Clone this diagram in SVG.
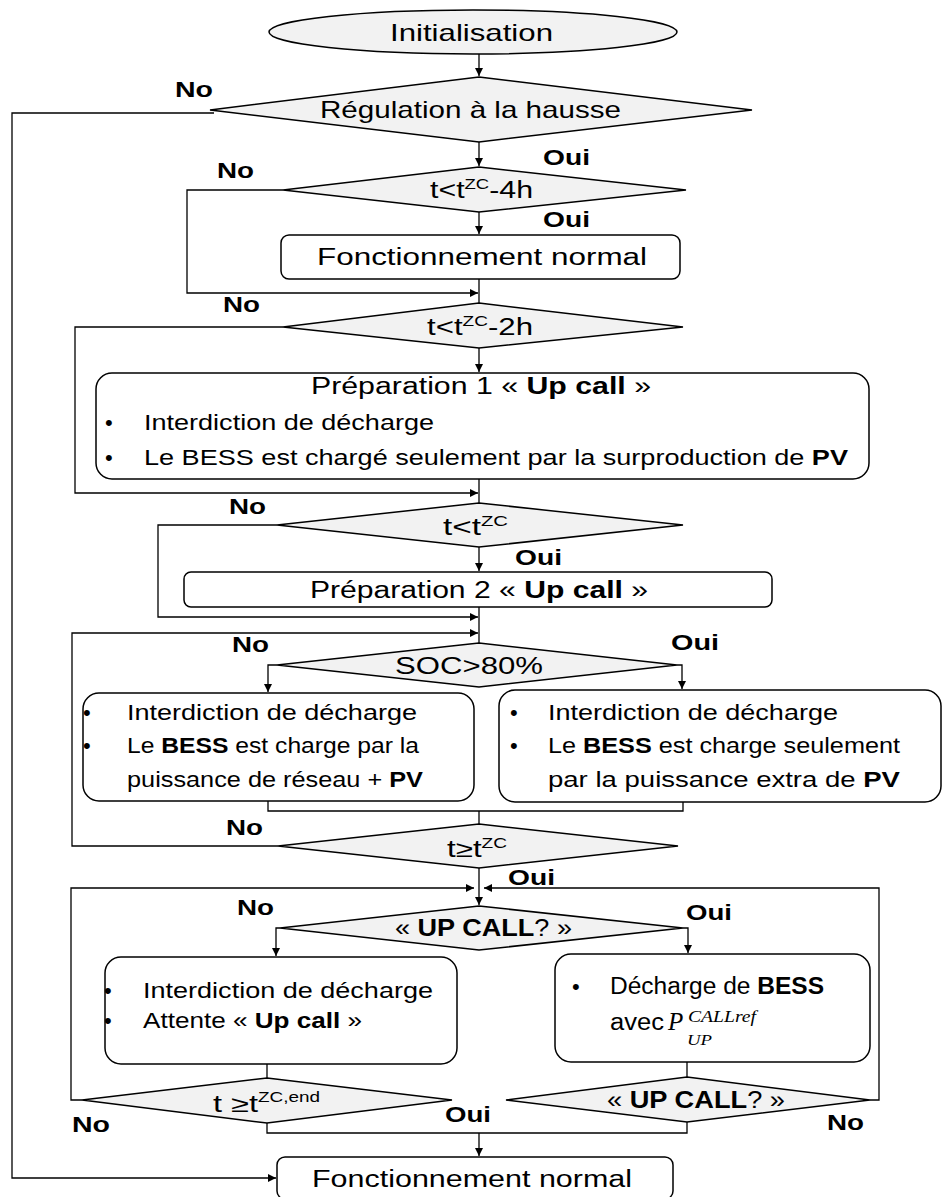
<svg xmlns="http://www.w3.org/2000/svg" width="944" height="1197" viewBox="0 0 944 1197">
<style>
.shape{fill:#f2f2f2;stroke:#000;stroke-width:1.5}
.box{fill:#fff;stroke:#000;stroke-width:1.5}
.ln{fill:none;stroke:#000;stroke-width:1.3}
text{font-family:"Liberation Sans",Arial,sans-serif;fill:#000}
.t24{font-size:24px}
.t23{font-size:23px}
.t22{font-size:22px}
.lbl{font-size:22px;font-weight:bold}
.b{font-weight:bold}
.sup{font-size:14px}
.m{font-family:"Liberation Serif","Times New Roman",serif;font-style:italic}
</style>
<defs>
<marker id="ar" markerUnits="userSpaceOnUse" markerWidth="9" markerHeight="8" refX="8" refY="4" orient="auto">
<path d="M0,0 L8,4 L0,8 z" fill="#000"/>
</marker>
</defs>

<g id="connectors">
<path class="ln" d="M479,54 V76" marker-end="url(#ar)"/>
<path class="ln" d="M479,142 V166" marker-end="url(#ar)"/>
<path class="ln" d="M479,212 V234" marker-end="url(#ar)"/>
<path class="ln" d="M479,279 V303"/>
<path class="ln" d="M283,190 H187 V293 H478" marker-end="url(#ar)"/>
<path class="ln" d="M214,113 H12 V1178 H276" marker-end="url(#ar)"/>
<path class="ln" d="M479,348 V372" marker-end="url(#ar)"/>
<path class="ln" d="M479,479 V503"/>
<path class="ln" d="M283,327 H75 V493 H478" marker-end="url(#ar)"/>
<path class="ln" d="M479,547 V571" marker-end="url(#ar)"/>
<path class="ln" d="M277,525 H158 V617 H478" marker-end="url(#ar)"/>
<path class="ln" d="M479,607 V643"/>
<path class="ln" d="M278,846 H72 V633 H478" marker-end="url(#ar)"/>
<path class="ln" d="M277,665 H268 V692" marker-end="url(#ar)"/>
<path class="ln" d="M677,665 H682 V689" marker-end="url(#ar)"/>
<path class="ln" d="M268,801 V811 H683 V802"/>
<path class="ln" d="M479,811 V824"/>
<path class="ln" d="M479,868 V905" marker-end="url(#ar)"/>
<path class="ln" d="M82,1100 H71 V888 H474" marker-end="url(#ar)"/>
<path class="ln" d="M870,1100 H879 V888 H484" marker-end="url(#ar)"/>
<path class="ln" d="M280,928 H276 V956" marker-end="url(#ar)"/>
<path class="ln" d="M683,928 H688 V953" marker-end="url(#ar)"/>
<path class="ln" d="M267,1064 V1078"/>
<path class="ln" d="M687,1062 V1077"/>
<path class="ln" d="M267,1123 V1133 H687 V1122"/>
<path class="ln" d="M479,1133 V1156" marker-end="url(#ar)"/>
</g>

<g id="labels">
<text class="lbl" x="175" y="97" textLength="38" lengthAdjust="spacingAndGlyphs">No</text>
<text class="lbl" x="543" y="165" textLength="47" lengthAdjust="spacingAndGlyphs">Oui</text>
<text class="lbl" x="217" y="178" textLength="37" lengthAdjust="spacingAndGlyphs">No</text>
<text class="lbl" x="543" y="227" textLength="47" lengthAdjust="spacingAndGlyphs">Oui</text>
<text class="lbl" x="223" y="312" textLength="37" lengthAdjust="spacingAndGlyphs">No</text>
<text class="lbl" x="229" y="514" textLength="37" lengthAdjust="spacingAndGlyphs">No</text>
<text class="lbl" x="515" y="565" textLength="47" lengthAdjust="spacingAndGlyphs">Oui</text>
<text class="lbl" x="232" y="652" textLength="37" lengthAdjust="spacingAndGlyphs">No</text>
<text class="lbl" x="671" y="650" textLength="48" lengthAdjust="spacingAndGlyphs">Oui</text>
<text class="lbl" x="226" y="835" textLength="37" lengthAdjust="spacingAndGlyphs">No</text>
<text class="lbl" x="508" y="885" textLength="47" lengthAdjust="spacingAndGlyphs">Oui</text>
<text class="lbl" x="237" y="915" textLength="37" lengthAdjust="spacingAndGlyphs">No</text>
<text class="lbl" x="686" y="920" textLength="46" lengthAdjust="spacingAndGlyphs">Oui</text>
<text class="lbl" x="72" y="1132" textLength="38" lengthAdjust="spacingAndGlyphs">No</text>
<text class="lbl" x="445" y="1122" textLength="46" lengthAdjust="spacingAndGlyphs">Oui</text>
<text class="lbl" x="827" y="1130" textLength="37" lengthAdjust="spacingAndGlyphs">No</text>
</g>

<g id="n-init">
<ellipse class="shape" cx="473" cy="32" rx="204" ry="22"/>
<text class="t24" x="390" y="41" textLength="163" lengthAdjust="spacingAndGlyphs">Initialisation</text>
</g>

<g id="n-regulation">
<polygon class="shape" points="479,77 752,110 479,142 210,110"/>
<text class="t24" x="320" y="118" textLength="301" lengthAdjust="spacingAndGlyphs">Régulation à la hausse</text>
</g>

<g id="n-t4h">
<polygon class="shape" points="479,167 686,190 479,212 283,190"/>
<text class="t23" x="430" y="198" textLength="103" lengthAdjust="spacingAndGlyphs">t&lt;t<tspan class="sup" dy="-9">ZC</tspan><tspan dy="9">-4h</tspan></text>
</g>

<g id="n-fonct1">
<rect class="box" x="281" y="235" width="399" height="44" rx="8"/>
<text class="t23" x="317" y="265" textLength="330" lengthAdjust="spacingAndGlyphs">Fonctionnement normal</text>
</g>

<g id="n-t2h">
<polygon class="shape" points="479,303 683,327 479,348 283,327"/>
<text class="t23" x="427" y="335" textLength="106" lengthAdjust="spacingAndGlyphs">t&lt;t<tspan class="sup" dy="-9">ZC</tspan><tspan dy="9">-2h</tspan></text>
</g>

<g id="n-prep1">
<rect class="box" x="96" y="373" width="773" height="106" rx="16"/>
<text class="t23" x="311" y="394" textLength="340" lengthAdjust="spacingAndGlyphs">Préparation 1 « <tspan class="b">Up call</tspan> »</text>
<text class="t22" x="105" y="430">•</text>
<text class="t22" x="144" y="430" textLength="290" lengthAdjust="spacingAndGlyphs">Interdiction de décharge</text>
<text class="t22" x="105" y="465">•</text>
<text class="t22" x="144" y="465" textLength="704" lengthAdjust="spacingAndGlyphs">Le BESS est chargé seulement par la surproduction de <tspan class="b">PV</tspan></text>
</g>

<g id="n-tzc">
<polygon class="shape" points="479,503 683,525 479,547 277,525"/>
<text class="t23" x="443" y="535" textLength="65" lengthAdjust="spacingAndGlyphs">t&lt;t<tspan class="sup" dy="-9">ZC</tspan></text>
</g>

<g id="n-prep2">
<rect class="box" x="184" y="572" width="588" height="35" rx="7"/>
<text class="t23" x="310" y="598" textLength="338" lengthAdjust="spacingAndGlyphs">Préparation 2 « <tspan class="b">Up call</tspan> »</text>
</g>

<g id="n-soc">
<polygon class="shape" points="479,643 677,665 479,687 277,665"/>
<text class="t23" x="395" y="674" textLength="148" lengthAdjust="spacingAndGlyphs">SOC&gt;80%</text>
</g>

<g id="n-soc-no">
<rect class="box" x="83" y="693" width="391" height="108" rx="16"/>
<text class="t22" x="83" y="720">•</text>
<text class="t22" x="127" y="720" textLength="290" lengthAdjust="spacingAndGlyphs">Interdiction de décharge</text>
<text class="t22" x="83" y="753">•</text>
<text class="t22" x="127" y="753" textLength="292" lengthAdjust="spacingAndGlyphs">Le <tspan class="b">BESS</tspan> est charge par la</text>
<text class="t22" x="127" y="787" textLength="296" lengthAdjust="spacingAndGlyphs">puissance de réseau + <tspan class="b">PV</tspan></text>
</g>

<g id="n-soc-oui">
<rect class="box" x="499" y="690" width="442" height="112" rx="16"/>
<text class="t22" x="510" y="720">•</text>
<text class="t22" x="548" y="720" textLength="290" lengthAdjust="spacingAndGlyphs">Interdiction de décharge</text>
<text class="t22" x="510" y="753">•</text>
<text class="t22" x="548" y="753" textLength="352" lengthAdjust="spacingAndGlyphs">Le <tspan class="b">BESS</tspan> est charge seulement</text>
<text class="t22" x="548" y="787" textLength="352" lengthAdjust="spacingAndGlyphs">par la puissance extra de <tspan class="b">PV</tspan></text>
</g>

<g id="n-tgezc">
<polygon class="shape" points="479,824 678,846 479,868 278,846"/>
<text class="t23" x="447" y="857" textLength="60" lengthAdjust="spacingAndGlyphs">t≥t<tspan class="sup" dy="-9">ZC</tspan></text>
</g>

<g id="n-upcall1">
<polygon class="shape" points="479,906 683,928 479,950 280,928"/>
<text class="t23" x="395" y="936" textLength="177" lengthAdjust="spacingAndGlyphs">« <tspan class="b">UP CALL</tspan>? »</text>
</g>

<g id="n-attente">
<rect class="box" x="105" y="957" width="352" height="107" rx="16"/>
<text class="t22" x="104" y="998">•</text>
<text class="t22" x="143" y="998" textLength="290" lengthAdjust="spacingAndGlyphs">Interdiction de décharge</text>
<text class="t22" x="104" y="1028">•</text>
<text class="t22" x="143" y="1028" textLength="219" lengthAdjust="spacingAndGlyphs">Attente « <tspan class="b">Up call</tspan> »</text>
</g>

<g id="n-decharge">
<rect class="box" x="555" y="954" width="315" height="108" rx="16"/>
<text class="t22" x="572" y="994">•</text>
<text x="610" y="994" font-size="23" textLength="214" lengthAdjust="spacingAndGlyphs">Décharge de <tspan class="b">BESS</tspan></text>
<text x="610" y="1030" font-size="23" textLength="54" lengthAdjust="spacingAndGlyphs">avec</text>
<text class="m" x="668" y="1030" font-size="25">P</text>
<text class="m" x="688" y="1022" font-size="16" textLength="68" lengthAdjust="spacingAndGlyphs">CALLref</text>
<text class="m" x="687" y="1045" font-size="15" textLength="25" lengthAdjust="spacingAndGlyphs">UP</text>
</g>

<g id="n-tend">
<polygon class="shape" points="267,1078 452,1100 267,1123 82,1100"/>
<text class="t23" x="213" y="1112" textLength="45" lengthAdjust="spacingAndGlyphs">t ≥t</text>
<text class="sup" x="258" y="1102" font-size="15" textLength="62" lengthAdjust="spacingAndGlyphs">ZC,end</text>
</g>

<g id="n-upcall2">
<polygon class="shape" points="687,1077 870,1100 687,1122 506,1100"/>
<text class="t23" x="607" y="1108" textLength="178" lengthAdjust="spacingAndGlyphs">« <tspan class="b">UP CALL</tspan>? »</text>
</g>

<g id="n-fonct2">
<rect class="box" x="277" y="1157" width="396" height="42" rx="8"/>
<text class="t23" x="312" y="1187" textLength="320" lengthAdjust="spacingAndGlyphs">Fonctionnement normal</text>
</g>
</svg>
